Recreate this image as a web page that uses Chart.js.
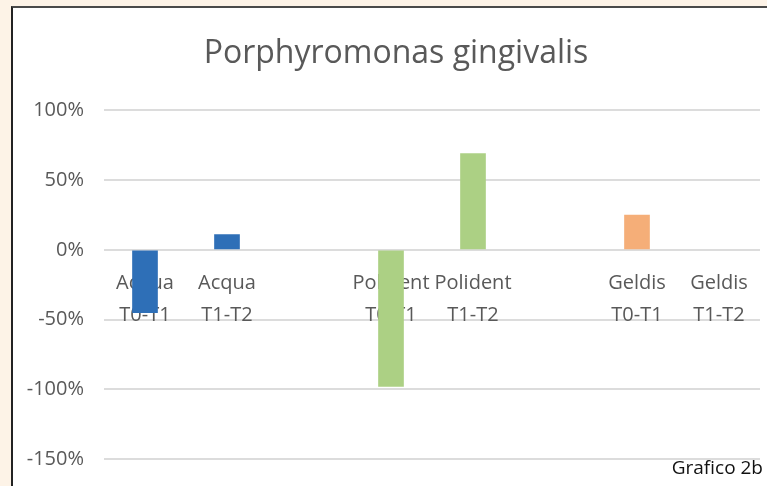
<!DOCTYPE html>
<html>
<head>
<meta charset="utf-8">
<script src="https://cdn.jsdelivr.net/npm/chart.js@4/dist/chart.umd.min.js"></script>
<style>
  html, body { margin: 0; padding: 0; }
  body { width: 767px; height: 486px; background: #fdf3e7; position: relative; overflow: hidden; }
  .frame {
    position: absolute; left: 11px; top: 6px; right: 0; bottom: 0;
    background: #fff; border-left: 2px solid #222; border-top: 2px solid #4a4a4a;
  }
  #wrap { position: absolute; left: 0; top: 0; width: 767px; height: 486px; }
  .note {
    position: absolute; right: 4px; top: 458px;
    font-family: "Open Sans", sans-serif; font-size: 19px; line-height: 19px; color: #111;
  }
</style>
</head>
<body>
<div class="frame"></div>
<div id="wrap"><canvas id="chart"></canvas></div>
<div class="note">Grafico 2b</div>

<script>
// data
const labels = [
  ["Acqua", "T0-T1"], ["Acqua", "T1-T2"], "",
  ["Polident", "T0-T1"], ["Polident", "T1-T2"], "",
  ["Geldis", "T0-T1"], ["Geldis", "T1-T2"]
];
const values = [-0.45, 0.11, null, -0.98, 0.69, null, 0.25, null];
const barColors = ["#2e6fb7", "#2e6fb7", null, "#acd084", "#acd084", null, "#f5ae78", "#f5ae78"];
const yTicks = [1, 0.5, 0, -0.5, -1, -1.5];

const gray = "#595959";
const font = "'Open Sans', sans-serif";

// nudge the title so it sits centred like the original
const titleShift = {
  id: "titleShift",
  afterLayout(chart) { chart.titleBlock.left += 20; }
};

const ctx = document.getElementById("chart").getContext("2d");

new Chart(ctx, {
  type: "bar",
  data: {
    labels: labels,
    datasets: [{
      data: values,
      backgroundColor: barColors,
      barThickness: 25
    }]
  },
  plugins: [titleShift],
  options: {
    responsive: true,
    maintainAspectRatio: false,
    animation: false,
    layout: { padding: { left: 12, right: 7, top: 8, bottom: 27 } },
    plugins: {
      legend: { display: false },
      tooltip: { enabled: false },
      title: {
        display: true,
        text: "Porphyromonas gingivalis",
        color: gray,
        font: { family: font, size: 32, weight: "normal" },
        padding: { top: 27, bottom: 37 }
      }
    },
    scales: {
      x: {
        position: { y: 0 },
        afterFit: s => { s.paddingTop = 0; s.paddingBottom = 0; },
        grid: { display: false },
        border: { display: false },
        ticks: {
          color: gray,
          font: { family: font, size: 20, lineHeight: 1.6 },
          padding: 9,
          maxRotation: 0,
          autoSkip: false
        }
      },
      y: {
        min: -1.5,
        max: 1,
        afterFit: s => { s.width = 92; s.paddingBottom = 0; },
        afterBuildTicks: s => { s.ticks = yTicks.map(v => ({ value: v })); },
        grid: { color: "#dcdcdc", lineWidth: 2, drawTicks: false },
        border: { display: false },
        ticks: {
          color: gray,
          font: { family: font, size: 20 },
          padding: 20,
          callback: v => Math.round(v * 100) + "%"
        }
      }
    }
  }
});
</script>
</body>
</html>
